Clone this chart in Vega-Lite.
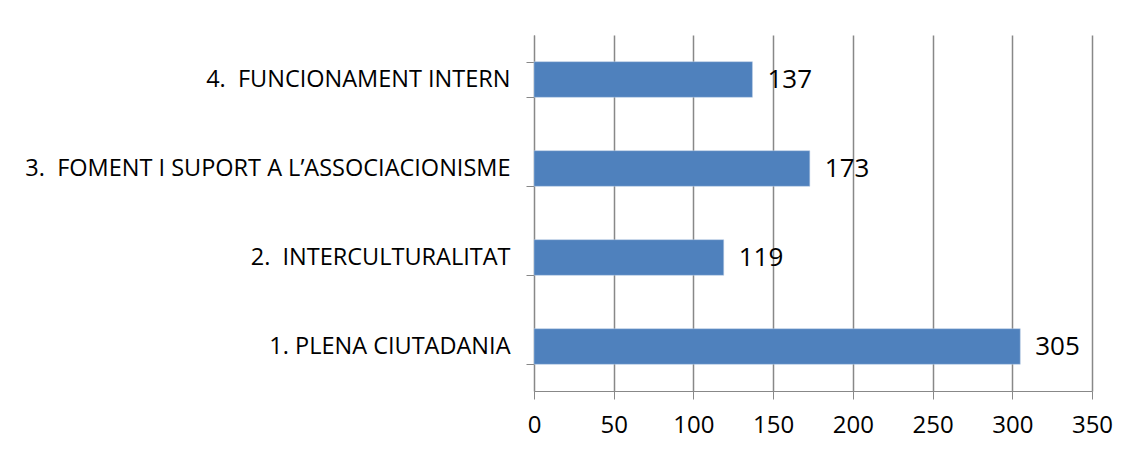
{
  "$schema": "https://vega.github.io/schema/vega-lite/v6.json",
  "width": 558,
  "height": 356,
  "autosize": {"type": "none"},
  "padding": {"left": 534, "top": 35, "right": 38, "bottom": 61},
  "background": "white",
  "config": {"view": {"stroke": null}, "font": "Open Sans"},
  "data": {
    "values": [
      {"cat": "4.\u00a0 FUNCIONAMENT INTERN", "val": 137, "ord": 1},
      {"cat": "3.\u00a0 FOMENT I SUPORT A L’ASSOCIACIONISME", "val": 173, "ord": 2},
      {"cat": "2.\u00a0 INTERCULTURALITAT", "val": 119, "ord": 3},
      {"cat": "1. PLENA CIUTADANIA", "val": 305, "ord": 4}
    ]
  },
  "encoding": {
    "y": {
      "field": "cat", "type": "nominal",
      "sort": {"field": "ord"},
      "scale": {"paddingInner": 0.6, "paddingOuter": 0.3},
      "axis": {
        "title": null, "tickBand": "extent", "grid": false,
        "domainColor": "#888888", "tickColor": "#888888", "tickSize": 8,
        "labelFontSize": 23.5, "labelColor": "#000000", "labelPadding": 16,
        "labelLimit": 700, "labelFont": "Open Sans"
      }
    },
    "x": {
      "field": "val", "type": "quantitative",
      "scale": {"domain": [0, 350]},
      "axis": {
        "title": null, "values": [0, 50, 100, 150, 200, 250, 300, 350],
        "grid": true, "gridColor": "#888888", "gridWidth": 1.5,
        "domainColor": "#888888", "tickColor": "#888888", "tickSize": 8,
        "labelFontSize": 24, "labelColor": "#000000", "labelPadding": 14,
        "labelFlush": false, "labelFont": "Open Sans"
      }
    }
  },
  "layer": [
    {"mark": {"type": "bar", "color": "#4F81BD", "stroke": "#B9CDE5", "strokeWidth": 0.5}},
    {"mark": {"type": "text", "align": "left", "dx": 15, "fontSize": 26, "color": "#000000", "font": "Open Sans"},
     "encoding": {"text": {"field": "val", "type": "quantitative"}}}
  ]
}
